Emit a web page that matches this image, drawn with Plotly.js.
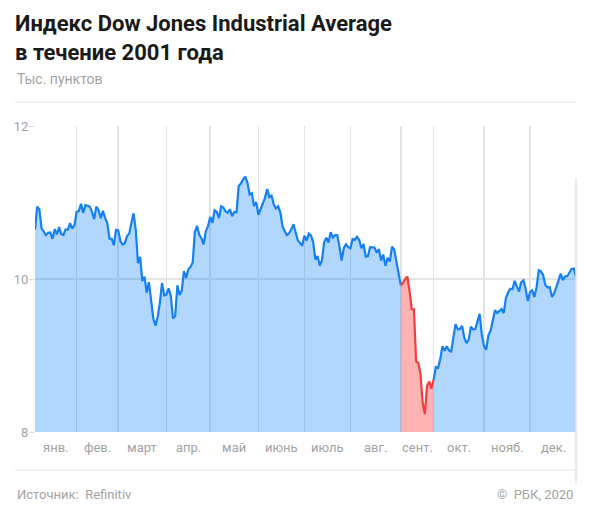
<!DOCTYPE html>
<html>
<head>
<meta charset="utf-8">
<script src="https://cdn.plot.ly/plotly-3.0.1.min.js"></script>
<style>
  html, body { margin: 0; padding: 0; background: #fff; }
  #chart { width: 590px; height: 522px; }
</style>
</head>
<body>
<div id="chart"></div>
<script>
// ---- data ----
const months = ['янв.', 'фев.', 'март', 'апр.', 'май', 'июнь', 'июль', 'авг.', 'сент.', 'окт.', 'нояб.', 'дек.'];
const tradingDays = [21, 19, 22, 20, 22, 21, 21, 23, 15, 23, 21, 20];
const closes = [
  // янв.
  10.646, 10.946, 10.912, 10.662, 10.621, 10.572, 10.604, 10.609, 10.525, 10.652, 10.584,
  10.678, 10.587, 10.578, 10.649, 10.646, 10.729, 10.659, 10.702, 10.881, 10.887,
  // фев.
  10.983, 10.864, 10.965, 10.957, 10.946, 10.880, 10.781, 10.946, 10.903, 10.795,
  10.891, 10.799, 10.730, 10.526, 10.526, 10.441, 10.642, 10.636, 10.495,
  // март
  10.450, 10.466, 10.562, 10.591, 10.729, 10.858, 10.644, 10.208, 10.290, 9.973, 10.031,
  9.823, 9.959, 9.720, 9.487, 9.389, 9.504, 9.687, 9.947, 9.785, 9.799, 9.879,
  // апр.
  9.777, 9.485, 9.515, 9.918, 9.791, 9.846, 10.103, 10.013, 10.127, 10.158,
  10.216, 10.615, 10.693, 10.579, 10.532, 10.454, 10.625, 10.692, 10.811, 10.735,
  // май
  10.899, 10.877, 10.796, 10.951, 10.935, 10.884, 10.867, 10.910, 10.821, 10.877, 10.873,
  11.215, 11.248, 11.302, 11.337, 11.257, 11.105, 11.122, 10.954, 11.005, 10.840, 10.912,
  // июнь
  10.990, 11.061, 11.175, 11.070, 11.091, 10.977, 10.922, 10.950, 10.872, 10.690, 10.623,
  10.575, 10.597, 10.646, 10.716, 10.605, 10.504, 10.472, 10.435, 10.566, 10.502,
  // июль
  10.593, 10.571, 10.480, 10.253, 10.300, 10.175, 10.242, 10.481, 10.539, 10.478, 10.611,
  10.541, 10.574, 10.575, 10.424, 10.240, 10.406, 10.455, 10.417, 10.401, 10.523,
  // авг.
  10.510, 10.551, 10.512, 10.401, 10.458, 10.292, 10.298, 10.416, 10.415, 10.412, 10.345, 10.392,
  10.240, 10.320, 10.174, 10.276, 10.229, 10.423, 10.382, 10.222, 10.090, 9.919, 9.950,
  // сент.
  9.997, 10.033, 9.840, 9.606, 9.605, 8.921, 8.903, 8.759, 8.376, 8.236, 8.604, 8.660, 8.568, 8.682, 8.848,
  // окт.
  8.837, 8.950, 9.123, 9.061, 9.120, 9.067, 9.052, 9.240, 9.410, 9.344, 9.348, 9.386,
  9.232, 9.163, 9.205, 9.377, 9.341, 9.345, 9.462, 9.545, 9.269, 9.122, 9.075,
  // нояб.
  9.263, 9.323, 9.441, 9.591, 9.554, 9.588, 9.608, 9.554, 9.750, 9.823, 9.872,
  9.866, 9.976, 9.901, 9.835, 9.960, 9.982, 9.872, 9.711, 9.829, 9.852,
  // дек.
  9.763, 9.893, 10.114, 10.099, 10.049, 9.921, 9.888, 9.895, 9.767, 9.811,
  9.891, 9.998, 10.070, 9.985, 10.036, 10.036, 10.089, 10.131, 10.137, 10.022
];
const yTicks = [8, 10, 12];
const highlightMonth = 8; // сент.

// ---- derived ----
const N = closes.length;
const idx = closes.map((_, i) => i);
const starts = [];
tradingDays.reduce((acc, d) => { starts.push(acc); return acc + d; }, 0);
const gridShift = 2;
const bounds = starts.map((s, i) => i === 0 ? 0 : s - gridShift).concat([N - 1]);
const mids = months.map((_, i) => (bounds[i] + bounds[i + 1]) / 2);

const hA = bounds[highlightMonth], hB = bounds[highlightMonth + 1];
function seg(a, b) {
  return { x: idx.slice(a, b + 1), y: closes.slice(a, b + 1) };
}
const blue = '#1580f5';
const blueFill = 'rgba(0,122,255,0.30)';
const red = '#f53d3d';
const redFill = 'rgba(255,50,50,0.37)';

const s1 = seg(0, hA), s2 = seg(hA, hB), s3 = seg(hB, N - 1);
const traces = [
  { x: s1.x, y: s1.y, type: 'scatter', mode: 'lines', fill: 'tozeroy', fillcolor: blueFill,
    line: { color: blue, width: 2.2 }, hoverinfo: 'skip' },
  { x: s3.x, y: s3.y, type: 'scatter', mode: 'lines', fill: 'tozeroy', fillcolor: blueFill,
    line: { color: blue, width: 2.2 }, hoverinfo: 'skip' },
  { x: s2.x, y: s2.y, type: 'scatter', mode: 'lines', fill: 'tozeroy', fillcolor: redFill,
    line: { color: red, width: 2.2 }, hoverinfo: 'skip' }
];

// pixel helpers for decorations (plot area 35..576 x, 126..432 y)
const L = 35, R = 576, T = 126, B = 432;
const px = v => (v - L) / (R - L);
const py = v => (B - v) / (B - T);

const gray = '#a3a3a3';
const font = 'Roboto, "Noto Sans", sans-serif';

const annotations = months.map((m, i) => ({
  x: mids[i], xref: 'x', y: 0, yref: 'paper', yanchor: 'top', yshift: -6,
  text: m, showarrow: false, font: { family: font, size: 13, color: gray }
}));
annotations.push(
  { x: px(15), y: py(79), xref: 'paper', yref: 'paper', xanchor: 'left', yanchor: 'middle',
    text: 'Тыс. пунктов', showarrow: false, font: { family: font, size: 14, color: gray } },
  { x: px(15), y: py(494), xref: 'paper', yref: 'paper', xanchor: 'left', yanchor: 'middle',
    text: 'Источник:  Refinitiv', showarrow: false, font: { family: font, size: 13, color: gray } },
  { x: px(575), y: py(494), xref: 'paper', yref: 'paper', xanchor: 'right', yanchor: 'middle',
    text: '©  РБК, 2020', showarrow: false, font: { family: font, size: 13, color: gray } }
);

const layout = {
  width: 590, height: 522,
  paper_bgcolor: '#fff', plot_bgcolor: '#fff',
  margin: { l: L, r: 590 - R, t: T, b: 522 - B },
  showlegend: false,
  hovermode: false,
  title: {
    text: 'Индекс Dow Jones Industrial Average<br>в течение 2001 года',
    x: 15 / 590, xref: 'container', xanchor: 'left',
    y: 1 - 31 / 522, yref: 'container', yanchor: 'top',
    font: { family: font, size: 22, color: '#1a1a1a', weight: 700 }
  },
  xaxis: {
    range: [0, N - 1], tickvals: bounds, ticktext: bounds.map(() => ''),
    showgrid: true, gridcolor: '#e3e3e3', gridwidth: 1.5,
    zeroline: false, showline: false, ticks: '', fixedrange: true
  },
  yaxis: {
    range: [8, 12], tickvals: yTicks, ticktext: yTicks.map(String),
    showgrid: true, gridcolor: '#e6e6e6', gridwidth: 1.5,
    zeroline: false, showline: false,
    ticks: 'outside', ticklen: 5, tickcolor: '#dcdcdc', tickwidth: 1,
    ticklabelstandoff: -2,
    tickfont: { family: font, size: 13, color: gray }, fixedrange: true
  },
  annotations: annotations,
  shapes: [
    { type: 'line', xref: 'paper', yref: 'paper', x0: px(15), x1: px(576), y0: py(102), y1: py(102),
      line: { color: '#eeeeee', width: 1.5 } },
    { type: 'line', xref: 'paper', yref: 'paper', x0: px(15), x1: px(576), y0: py(470), y1: py(470),
      line: { color: '#eeeeee', width: 1.5 } },
    { type: 'line', xref: 'paper', yref: 'paper', x0: px(576), x1: px(576), y0: py(178), y1: py(483),
      line: { color: '#e4e4e4', width: 1.5 } }
  ]
};

Plotly.newPlot('chart', traces, layout, { staticPlot: true, displayModeBar: false });
</script>
</body>
</html>
